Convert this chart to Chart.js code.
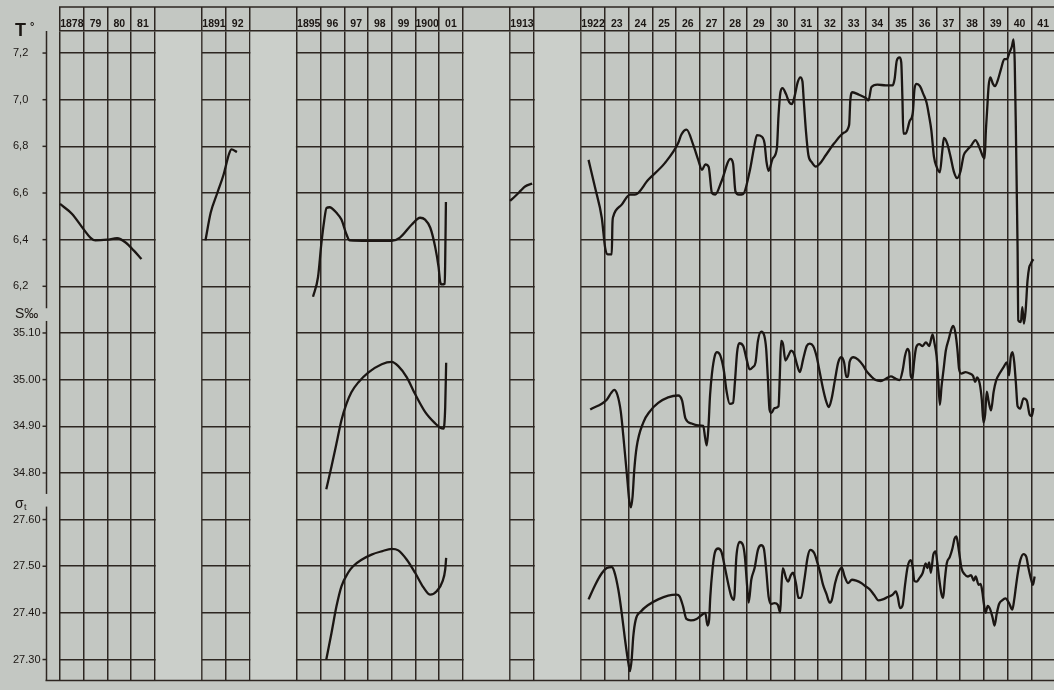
<!DOCTYPE html>
<html><head><meta charset="utf-8">
<style>html,body{margin:0;padding:0;background:#c3c7c2;overflow:hidden;}canvas{display:block;}</style>
<script src="https://cdn.jsdelivr.net/npm/chart.js@4.4.1/dist/chart.umd.min.js"></script>
</head><body>
<canvas id="c" width="1060" height="690"></canvas>
<script>
// ---------- categories / ticks ----------
const columnLabels = ['1878','79','80','81','','','1891','92','','','1895','96','97','98','99','1900','01','','','1913','','','1922','23','24','25','26','27','28','29','30','31','32','33','34','35','36','37','38','39','40','41'];
const gapSlots = [[4,6],[8,10],[17,19],[20,22]];
const sections = [[1878,0,4],[1891,6,2],[1895,10,7],[1913,19,1],[1922,22,20]]; // first year, first column, columns
const tTicks = [6.2,6.4,6.6,6.8,7.0,7.2];
const sTicks = [34.8,34.9,35.0,35.1];
const sigmaTicks = [27.3,27.4,27.5,27.6];

// ---------- temperature T° ----------
const temp1878Years = [1878.00,1878.50,1879.00,1879.28,1879.49,1879.99,1880.41,1880.77,1881.12,1881.44];
const temp1878Values = [6.553,6.511,6.444,6.409,6.397,6.400,6.406,6.388,6.353,6.317];
const temp1891Years = [1891.14,1891.36,1891.64,1891.90,1892.14,1892.24,1892.47];
const temp1891Values = [6.397,6.515,6.600,6.677,6.769,6.787,6.776];
const temp1895Years = [1895.68,1895.89,1896.03,1896.15,1896.25,1896.38,1896.67,1896.88,1897.09,1897.23,1898.01,1899.00,1899.35,1899.85,1900.20,1900.41,1900.63,1900.84,1900.98,1901.05,1901.12,1901.24,1901.26,1901.29];
const temp1895Values = [6.155,6.239,6.381,6.480,6.536,6.539,6.515,6.486,6.423,6.397,6.395,6.395,6.409,6.465,6.494,6.486,6.451,6.367,6.282,6.218,6.208,6.211,6.310,6.561];
const temp1913Years = [1913.00,1913.20,1913.46,1913.63,1913.93];
const temp1913Values = [6.566,6.585,6.611,6.628,6.640];
const temp1922Years = [1922.31,1922.59,1922.87,1923.01,1923.12,1923.29,1923.32,1923.36,1923.71,1924.06,
1924.27,1924.83,1925.53,1926.09,1926.23,1926.45,1926.73,1926.94,1927.10,1927.24,
1927.38,1927.52,1927.66,1927.92,1928.30,1928.41,1928.51,1928.65,1928.83,1929.11,
1929.29,1929.42,1929.63,1929.74,1929.82,1929.91,1930.09,1930.26,1930.33,1930.41,
1930.50,1930.64,1930.78,1930.89,1931.00,1931.14,1931.25,1931.34,1931.39,1931.49,
1931.59,1931.73,1931.91,1932.05,1932.33,1932.68,1933.10,1933.31,1933.36,1933.45,
1933.73,1934.01,1934.13,1934.25,1934.50,1934.86,1935.14,1935.23,1935.32,1935.44,
1935.51,1935.56,1935.60,1935.70,1935.86,1936.00,1936.07,1936.16,1936.30,1936.44,
1936.58,1936.68,1936.78,1936.89,1937.00,1937.14,1937.24,1937.31,1937.45,1937.59,
1937.73,1937.87,1938.01,1938.15,1938.29,1938.46,1938.64,1938.78,1938.96,1939.03,
1939.08,1939.13,1939.20,1939.27,1939.38,1939.47,1939.58,1939.72,1939.86,1939.97,
1940.08,1940.18,1940.25,1940.30,1940.35,1940.39,1940.42,1940.45,1940.56,1940.62,
1940.69,1940.76,1940.84,1940.91,1940.97,1941.04,1941.09];
const temp1922Values = [6.742,6.621,6.493,6.366,6.337,6.337,6.472,6.501,6.550,6.593,
6.593,6.657,6.728,6.813,6.851,6.872,6.806,6.742,6.699,6.723,
6.713,6.600,6.593,6.649,6.746,6.727,6.607,6.593,6.595,6.692,
6.791,6.848,6.841,6.813,6.735,6.695,6.749,6.791,6.933,7.032,
7.050,7.025,6.990,6.981,7.011,7.075,7.096,7.078,7.004,6.862,
6.763,6.732,6.713,6.723,6.763,6.813,6.859,6.891,6.997,7.032,
7.021,7.007,6.997,7.054,7.065,7.061,7.061,7.089,7.167,7.181,
7.160,7.004,6.855,6.855,6.907,6.947,7.047,7.068,7.058,7.025,
6.987,6.933,6.869,6.756,6.713,6.689,6.777,6.836,6.812,6.756,
6.692,6.664,6.692,6.763,6.784,6.803,6.827,6.803,6.756,6.749,
6.862,6.947,7.060,7.096,7.068,7.058,7.082,7.131,7.174,7.174,
7.203,7.228,7.259,7.160,6.862,6.578,6.366,6.054,6.047,6.111,
6.040,6.096,6.224,6.281,6.295,6.309,6.316];

// ---------- salinity S‰ ----------
const sal1895Years = [1896.24,1896.46,1896.67,1896.88,1897.09,1897.30,1897.59,1898.01,1898.58,1899.00,1899.28,1899.64,1899.99,1900.41,1900.84,1901.05,1901.19,1901.26,1901.30];
const sal1895Values = [34.765,34.814,34.863,34.913,34.948,34.973,34.994,35.015,35.033,35.038,35.029,35.005,34.969,34.931,34.906,34.897,34.895,34.941,35.036];
const sal1922Years = [1922.38,1923.08,1923.26,1923.39,1923.53,1923.67,1923.81,1923.95,1924.03,1924.10,
1924.17,1924.24,1924.34,1924.62,1924.90,1925.25,1925.67,1926.09,1926.26,1926.40,
1926.66,1926.94,1927.15,1927.23,1927.30,1927.37,1927.44,1927.52,1927.64,1927.73,
1927.87,1928.02,1928.14,1928.27,1928.41,1928.49,1928.58,1928.67,1928.84,1928.98,
1929.11,1929.25,1929.36,1929.46,1929.60,1929.73,1929.81,1929.88,1929.95,1930.03,
1930.16,1930.33,1930.38,1930.44,1930.52,1930.62,1930.75,1930.86,1930.97,1931.10,
1931.23,1931.37,1931.52,1931.65,1931.79,1931.93,1932.07,1932.21,1932.35,1932.45,
1932.57,1932.71,1932.85,1932.98,1933.10,1933.19,1933.26,1933.33,1933.50,1933.69,
1933.89,1934.06,1934.22,1934.43,1934.65,1934.86,1935.07,1935.28,1935.44,1935.57,
1935.67,1935.77,1935.85,1935.91,1935.98,1936.05,1936.14,1936.27,1936.41,1936.55,
1936.69,1936.83,1936.92,1937.00,1937.07,1937.14,1937.21,1937.30,1937.39,1937.51,
1937.62,1937.70,1937.80,1937.88,1937.95,1938.04,1938.22,1938.40,1938.54,1938.63,
1938.71,1938.82,1938.91,1938.98,1939.05,1939.12,1939.20,1939.30,1939.41,1939.52,
1939.66,1939.83,1939.97,1940.06,1940.13,1940.21,1940.28,1940.35,1940.42,1940.53,
1940.67,1940.81,1940.93,1941.02,1941.09];
const sal1922Values = [34.936,34.957,34.971,34.978,34.967,34.932,34.862,34.785,34.740,34.726,
34.750,34.806,34.855,34.908,34.932,34.950,34.962,34.966,34.955,34.917,
34.906,34.902,34.901,34.876,34.859,34.897,34.967,35.013,35.051,35.059,
35.052,35.020,34.974,34.948,34.950,34.995,35.058,35.078,35.072,35.044,
35.022,35.027,35.037,35.083,35.103,35.094,35.065,35.002,34.936,34.929,
34.939,34.943,35.002,35.083,35.076,35.041,35.052,35.062,35.057,35.034,
35.016,35.044,35.072,35.077,35.072,35.051,35.016,34.980,34.952,34.941,
34.959,34.999,35.037,35.048,35.036,35.006,35.006,35.038,35.048,35.043,
35.031,35.017,35.008,34.999,34.997,35.002,35.007,35.002,34.999,35.020,
35.051,35.066,35.058,35.009,35.003,35.037,35.069,35.076,35.072,35.080,
35.072,35.097,35.076,35.051,35.002,34.946,34.985,35.023,35.062,35.086,
35.107,35.115,35.099,35.065,35.023,35.013,35.016,35.013,35.008,34.995,
35.005,34.992,34.957,34.908,34.925,34.974,34.953,34.934,34.974,34.999,
35.013,35.027,35.037,35.009,35.048,35.059,35.037,34.992,34.943,34.938,
34.960,34.955,34.925,34.922,34.939];

// ---------- density σt ----------
const sigma1895Years = [1896.24,1896.46,1896.67,1896.88,1897.16,1897.37,1897.73,1898.15,1898.58,1899.00,1899.28,1899.64,1899.99,1900.35,1900.63,1900.91,1901.15,1901.26,1901.30];
const sigma1895Values = [27.300,27.357,27.414,27.457,27.486,27.500,27.514,27.525,27.532,27.537,27.534,27.514,27.486,27.454,27.439,27.447,27.468,27.493,27.518];
const sigma1922Years = [1922.31,1922.59,1922.87,1923.08,1923.29,1923.40,1923.57,1923.71,1923.85,1923.99,
1924.06,1924.13,1924.20,1924.30,1924.52,1924.83,1925.25,1925.67,1926.02,1926.16,
1926.30,1926.44,1926.63,1926.87,1927.10,1927.24,1927.33,1927.40,1927.45,1927.54,
1927.64,1927.78,1927.92,1928.06,1928.20,1928.34,1928.45,1928.55,1928.69,1928.83,
1928.91,1929.00,1929.07,1929.18,1929.32,1929.46,1929.60,1929.71,1929.81,1929.91,
1930.02,1930.16,1930.30,1930.40,1930.45,1930.51,1930.65,1930.73,1930.85,1930.94,
1931.07,1931.17,1931.28,1931.42,1931.56,1931.67,1931.84,1931.98,1932.09,1932.21,
1932.35,1932.49,1932.58,1932.72,1932.87,1933.00,1933.12,1933.26,1933.43,1933.61,
1933.82,1934.03,1934.17,1934.36,1934.55,1934.73,1934.94,1935.15,1935.28,1935.36,
1935.46,1935.57,1935.67,1935.78,1935.91,1935.99,1936.06,1936.16,1936.27,1936.41,
1936.54,1936.61,1936.69,1936.76,1936.86,1936.96,1937.03,1937.11,1937.20,1937.28,
1937.35,1937.43,1937.56,1937.67,1937.76,1937.84,1937.91,1937.98,1938.05,1938.18,
1938.32,1938.46,1938.57,1938.65,1938.78,1938.86,1938.93,1939.00,1939.07,1939.16,
1939.26,1939.36,1939.45,1939.54,1939.64,1939.77,1939.91,1940.06,1940.20,1940.28,
1940.35,1940.43,1940.53,1940.67,1940.79,1940.88,1940.98,1941.07,1941.14];
const sigma1922Values = [27.429,27.460,27.485,27.496,27.498,27.488,27.449,27.400,27.343,27.293,
27.275,27.300,27.350,27.385,27.403,27.417,27.429,27.437,27.439,27.435,
27.414,27.387,27.384,27.387,27.396,27.400,27.373,27.385,27.435,27.492,
27.529,27.538,27.531,27.499,27.464,27.435,27.428,27.520,27.552,27.545,
27.520,27.460,27.422,27.471,27.496,27.535,27.545,27.538,27.492,27.435,
27.419,27.421,27.417,27.401,27.456,27.496,27.474,27.467,27.481,27.486,
27.462,27.432,27.432,27.471,27.520,27.535,27.528,27.506,27.486,27.460,
27.441,27.422,27.428,27.464,27.488,27.497,27.478,27.464,27.471,27.469,
27.464,27.456,27.451,27.439,27.427,27.429,27.434,27.439,27.446,27.435,
27.410,27.417,27.460,27.499,27.513,27.499,27.469,27.467,27.474,27.485,
27.506,27.496,27.508,27.486,27.524,27.532,27.508,27.474,27.442,27.432,
27.471,27.506,27.520,27.538,27.559,27.564,27.545,27.520,27.496,27.483,
27.478,27.481,27.469,27.478,27.460,27.462,27.446,27.419,27.400,27.415,
27.408,27.391,27.373,27.398,27.419,27.427,27.431,27.421,27.407,27.429,
27.456,27.485,27.512,27.526,27.520,27.496,27.474,27.460,27.478];

// ---------- helpers ----------
function toSlot(year){
  for (const [y0, c0, n] of sections) if (year >= y0 && year <= y0 + n) return c0 + (year - y0);
  return null;
}
function series(parts){
  const out = [];
  parts.forEach(([ys, vs], i) => {
    if (i > 0) out.push({x: toSlot(ys[0]) - 0.01, y: null});
    ys.forEach((yr, j) => out.push({x: toSlot(yr), y: vs[j]}));
  });
  return out;
}
const isGapInterior = v => gapSlots.some(([a,b]) => v > a && v < b);

// ---------- styling / geometry ----------
const GRID = '#2d2621', INK = '#1b1613', BG = '#c3c7c2', BAND = '#cbcfca';
const FONT = "'Liberation Sans', 'Arial', sans-serif";
const PLOT_TOP = 31, PLOT_BOTTOM = 688, FIRST_LINE = 53.3, STEP = 47.2;
const tUnit = STEP / 0.2, sUnit = STEP / 0.1;
const tMax = 7.2 + (FIRST_LINE - PLOT_TOP) / tUnit, tMin = tMax - (PLOT_BOTTOM - PLOT_TOP) / tUnit;
const sMax = 35.1 + (FIRST_LINE + 6*STEP - PLOT_TOP) / sUnit, sMin = sMax - (PLOT_BOTTOM - PLOT_TOP) / sUnit;
const gMax = 27.6 + (FIRST_LINE + 10*STEP - PLOT_TOP) / sUnit, gMin = gMax - (PLOT_BOTTOM - PLOT_TOP) / sUnit;

const decor = {
  id: 'decor',
  beforeDraw(chart){
    const c = chart.ctx; c.save(); c.fillStyle = BG; c.fillRect(0,0,chart.width,chart.height); c.restore();
  },
  beforeDatasetsDraw(chart){
    const c = chart.ctx, a = chart.chartArea, x = chart.scales.x;
    c.save();
    c.fillStyle = BAND;
    gapSlots.forEach(([g0,g1]) => {
      const x0 = x.getPixelForValue(g0) + 1, x1 = x.getPixelForValue(g1) - 1;
      c.fillRect(x0, a.top + 1, x1 - x0, a.bottom - a.top);
    });
    c.strokeStyle = GRID; c.lineWidth = 1.5;
    c.beginPath(); c.moveTo(a.left - 1, a.top - 24); c.lineTo(a.right + 2, a.top - 24); c.stroke();
    c.restore();
  },
  afterDraw(chart){
    const c = chart.ctx, a = chart.chartArea, s = chart.scales;
    c.save();
    c.strokeStyle = GRID; c.lineWidth = 1.5;
    const bx = 46.5;
    const bracket = (y0, y1, scale, ticks) => {
      c.beginPath(); c.moveTo(bx, y0); c.lineTo(bx, y1); c.stroke();
      ticks.forEach(v => { const py = scale.getPixelForValue(v); c.beginPath(); c.moveTo(bx - 4, py); c.lineTo(bx, py); c.stroke(); });
    };
    bracket(a.top, s.yT.getPixelForValue(6.2) + 22, s.yT, tTicks);
    bracket(s.yS.getPixelForValue(35.1) - 12, s.yS.getPixelForValue(34.8) + 21, s.yS, sTicks);
    bracket(s.ySig.getPixelForValue(27.6) - 13, a.bottom, s.ySig, sigmaTicks);
    c.beginPath(); c.moveTo(bx - 1, a.bottom); c.lineTo(a.right + 2, a.bottom); c.stroke();
    c.fillStyle = INK; c.textBaseline = 'alphabetic'; c.textAlign = 'left';
    c.font = "bold 18px 'Liberation Sans', sans-serif";
    c.fillText('T', 15, 36);
    c.font = "bold 11px 'Liberation Sans', sans-serif";
    c.fillText('°', 30, 30);
    c.font = "14px 'Liberation Sans', sans-serif";
    c.fillText('S‰', 15, 318);
    c.font = "14px 'Liberation Sans', sans-serif";
    c.fillText('σ', 15, 508);
    c.font = "9px 'Liberation Sans', sans-serif";
    c.fillText('t', 24, 510);
    c.restore();
  }
};

const lineStyle = {borderColor: INK, borderWidth: 2.3, pointRadius: 0, fill: false, spanGaps: false, cubicInterpolationMode: 'monotone', clip: 4};
const yTickFont = {family: FONT, size: 11};
const mirrorTicks = (fmt) => ({mirror: true, crossAlign: 'near', padding: 0, color: INK, font: yTickFont, callback: fmt});

new Chart(document.getElementById('c'), {
  type: 'line',
  data: {datasets: [
    {label: 'T°', yAxisID: 'yT', data: series([[temp1878Years,temp1878Values],[temp1891Years,temp1891Values],[temp1895Years,temp1895Values],[temp1913Years,temp1913Values],[temp1922Years,temp1922Values]]), ...lineStyle},
    {label: 'S‰', yAxisID: 'yS', data: series([[sal1895Years,sal1895Values],[sal1922Years,sal1922Values]]), ...lineStyle},
    {label: 'σt', yAxisID: 'ySig', data: series([[sigma1895Years,sigma1895Values],[sigma1922Years,sigma1922Values]]), ...lineStyle}
  ]},
  options: {
    responsive: false, animation: false, devicePixelRatio: 1,
    layout: {padding: {top: 7, bottom: 2, left: 13, right: 5}},
    plugins: {legend: {display: false}, tooltip: {enabled: false}},
    scales: {
      x: {
        type: 'linear', position: 'top', min: 0, max: columnLabels.length,
        afterBuildTicks: ax => { ax.ticks = columnLabels.map((_, i) => ({value: i})).concat([{value: columnLabels.length}]); },
        afterFit: ax => { ax.height = 24; },
        ticks: {autoSkip: false, maxRotation: 0, minRotation: 0, padding: -23, labelOffset: 11.85,
          callback: (v, i) => columnLabels[i] ?? '', color: INK, font: {family: FONT, size: 10.5, weight: 'bold'}},
        grid: {color: ctx => isGapInterior(ctx.tick.value) ? 'rgba(0,0,0,0)' : GRID, lineWidth: 1.5, tickLength: 24, drawTicks: true},
        border: {display: true, color: GRID, width: 1.5}
      },
      yT: {
        type: 'linear', position: 'left', weight: 0, min: tMin, max: tMax,
        afterBuildTicks: ax => { ax.ticks = tTicks.map(v => ({value: v})); },
        afterFit: ax => { ax.width = 47; },
        ticks: {crossAlign: 'far', color: INK, font: yTickFont, callback: v => v.toFixed(1).replace('.', ',')},
        grid: {drawTicks: false, color: GRID, lineWidth: 1.5}, border: {display: false}
      },
      yS: {
        type: 'linear', position: 'left', weight: 10, min: sMin, max: sMax,
        afterBuildTicks: ax => { ax.ticks = sTicks.map(v => ({value: v})); },
        afterFit: ax => { ax.width = 0; },
        ticks: mirrorTicks(v => v.toFixed(2)),
        grid: {drawTicks: false, color: GRID, lineWidth: 1.5}, border: {display: false}
      },
      ySig: {
        type: 'linear', position: 'left', weight: 10, min: gMin, max: gMax,
        afterBuildTicks: ax => { ax.ticks = sigmaTicks.map(v => ({value: v})); },
        afterFit: ax => { ax.width = 0; },
        ticks: mirrorTicks(v => v.toFixed(2)),
        grid: {drawTicks: false, color: GRID, lineWidth: 1.5}, border: {display: false}
      }
    }
  },
  plugins: [decor]
});
</script>
</body></html>
